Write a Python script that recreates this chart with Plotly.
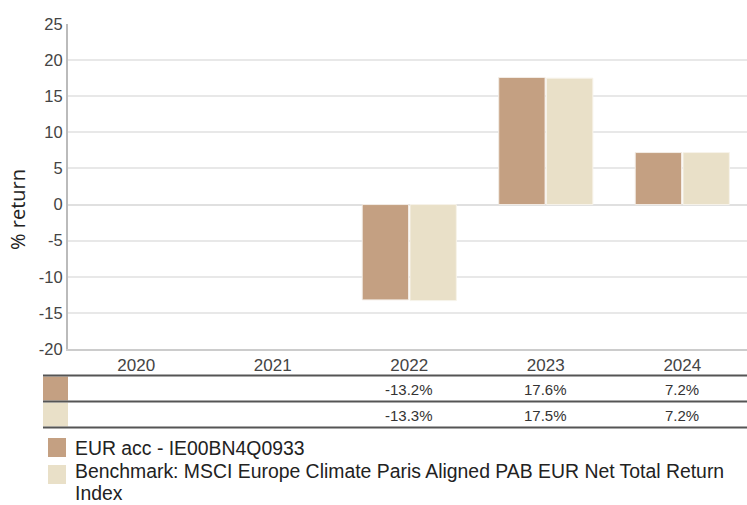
import plotly.graph_objects as go

years = ["2020", "2021", "2022", "2023", "2024"]
fund_values = [None, None, -13.2, 17.6, 7.2]
bench_values = [None, None, -13.3, 17.5, 7.2]
fund_name = "EUR acc - IE00BN4Q0933"
bench_name_lines = ["Benchmark: MSCI Europe Climate Paris Aligned PAB EUR Net Total Return", "Index"]
fund_color = "#c4a082"
bench_color = "#e9e0c8"
y_ticks = [-20, -15, -10, -5, 0, 5, 10, 15, 20, 25]

W, H = 747, 505
ML, MR, MT, MB = 68, 0, 24, 156
PH = H - MT - MB
PW = W - ML - MR


def py(px):  # pixel y -> paper y
    return (H - MB - px) / PH


def pxx(px):  # pixel x -> paper x
    return (px - ML) / PW


fig = go.Figure()
fig.add_trace(go.Bar(x=years, y=fund_values, name=fund_name, marker_color=fund_color,
                     marker_line=dict(color="#f3ede6", width=1), showlegend=False))
fig.add_trace(go.Bar(x=years, y=bench_values, name=" ".join(bench_name_lines), marker_color=bench_color,
                     marker_line=dict(color="#f7f3ea", width=1), showlegend=False))

shapes = []
annotations = []

# table lines
for ypix in [375.5, 401.5, 427.5]:
    shapes.append(dict(type="line", xref="paper", yref="paper", x0=pxx(43), x1=1.0,
                       y0=py(ypix), y1=py(ypix), line=dict(color="#555555", width=2)))
# table swatches
for (y0, y1, c) in [(376.5, 400.5, fund_color), (402.5, 426.5, bench_color)]:
    shapes.append(dict(type="rect", xref="paper", yref="paper", x0=pxx(43), x1=pxx(68),
                       y0=py(y1), y1=py(y0), fillcolor=c, line=dict(width=0), layer="below"))

# table values
for vals, ypix in [(fund_values, 389), (bench_values, 415)]:
    for i, v in enumerate(vals):
        if v is None:
            continue
        annotations.append(dict(x=i, xref="x", y=py(ypix), yref="paper", text=f"{v:.1f}%",
                                showarrow=False, font=dict(family="Liberation Sans, Arial", size=15, color="#333333"),
                                xanchor="center", yanchor="middle"))

# legend
legend_font = dict(family="Liberation Sans, Arial", size=19.4, color="#222222")
for (y0, y1, c) in [(438, 457, fund_color), (465, 484, bench_color)]:
    shapes.append(dict(type="rect", xref="paper", yref="paper", x0=pxx(48), x1=pxx(66),
                       y0=py(y1), y1=py(y0), fillcolor=c, line=dict(width=0)))
for t, ymid in [(fund_name, 447.5), (bench_name_lines[0], 470.5), (bench_name_lines[1], 493)]:
    annotations.append(dict(x=pxx(74), xref="paper", y=py(ymid), yref="paper", text=t,
                            showarrow=False, align="left", xanchor="left", yanchor="middle",
                            borderpad=0, font=legend_font))

# y title
annotations.append(dict(x=pxx(17), xref="paper", y=py(210), yref="paper", text="% return",
                        textangle=-90, showarrow=False, xanchor="center", yanchor="middle",
                        font=dict(family="Open Sans", size=20, color="#222222")))

fig.update_layout(
    width=W, height=H,
    margin=dict(l=ML, r=MR, t=MT, b=MB, pad=0),
    paper_bgcolor="white", plot_bgcolor="white",
    barmode="group", bargap=0.3, bargroupgap=0.03,
    shapes=shapes, annotations=annotations,
    showlegend=False,
    xaxis=dict(type="category", range=[-0.5, 4.474], showgrid=False, showline=True, linecolor="#cccccc",
               linewidth=2, ticks="", tickfont=dict(family="Liberation Sans, Arial", size=17, color="#444444"),
               zeroline=False),
    yaxis=dict(range=[-20, 25], tickvals=y_ticks, ticktext=[str(v) for v in y_ticks],
               showgrid=True, gridcolor="#e8e8e8", gridwidth=2,
               showline=True, linecolor="#bbbbbb", linewidth=2, ticks="", zeroline=True,
               zerolinecolor="#e0e0e0", zerolinewidth=2,
               tickfont=dict(family="Liberation Sans, Arial", size=16.5, color="#444444")),
    font=dict(family="Liberation Sans, Arial"),
)

fig.write_html("out.html", config={"displayModeBar": False},
               post_script="document.body.style.margin='0';document.body.style.padding='0';")
